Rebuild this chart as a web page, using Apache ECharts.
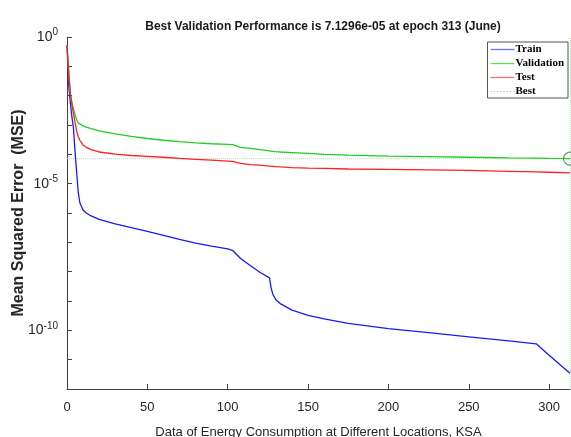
<!DOCTYPE html>
<html>
<head>
<meta charset="utf-8">
<script src="https://cdn.jsdelivr.net/npm/echarts@6/dist/echarts.min.js"></script>
<style>
  html, body { margin: 0; padding: 0; background: #fff; }
  #chart { width: 571px; height: 437px; }
</style>
</head>
<body>
<div id="chart"></div>
<script>
const epochs = [0, 1, 2, 3, 4, 5, 6, 7, 8, 10, 12, 15, 20, 30, 40, 50, 60, 70, 80, 90, 100,
  103, 108, 114, 120, 126, 127, 128, 130, 133, 140, 150, 160, 175, 200, 225, 250, 275, 292, 300, 313];

// log10(MSE) per epoch
const trainLog = [-0.28, -1.6, -2.2, -2.7, -3.1, -3.9, -4.6, -5.3, -5.65, -5.9, -6.0, -6.1, -6.22, -6.37, -6.5, -6.63, -6.76, -6.9, -7.03, -7.13, -7.22,
  -7.27, -7.55, -7.79, -8.02, -8.21, -8.55, -8.76, -8.96, -9.1, -9.31, -9.49, -9.61, -9.76, -9.94, -10.08, -10.22, -10.36, -10.46, -10.85, -11.46];
const validLog = [-0.28, -1.2, -1.9, -2.2, -2.45, -2.65, -2.82, -2.93, -2.98, -3.03, -3.07, -3.12, -3.2, -3.3, -3.39, -3.46, -3.52, -3.57, -3.61, -3.64, -3.66,
  -3.67, -3.76, -3.8, -3.84, -3.88, -3.89, -3.9, -3.91, -3.92, -3.94, -3.97, -4.0, -4.03, -4.06, -4.08, -4.1, -4.12, -4.13, -4.14, -4.147];
const testLog = [-0.28, -1.1, -1.9, -2.3, -2.6, -2.9, -3.2, -3.4, -3.52, -3.68, -3.76, -3.84, -3.92, -3.99, -4.04, -4.07, -4.1, -4.14, -4.17, -4.2, -4.23,
  -4.24, -4.31, -4.35, -4.37, -4.4, -4.4, -4.41, -4.42, -4.43, -4.45, -4.47, -4.48, -4.5, -4.51, -4.53, -4.55, -4.58, -4.6, -4.61, -4.63];

const bestEpoch = 313;
const bestPerf = 7.1296e-5;
const xTicks = [0, 50, 100, 150, 200, 250, 300];
const yLabelExps = [0, -5, -10];

const toPairs = (logs) => epochs.map((x, i) => [x, Math.pow(10, logs[i])]);

// legend swatches: a thin line, and a dotted one for "Best"
const lineIcon = 'path://M0,0 L24,0 L24,1.3 L0,1.3 Z';
const dotIcon = 'path://M0,0h1v1h-1zM3,0h1v1h-1zM6,0h1v1h-1zM9,0h1v1h-1zM12,0h1v1h-1zM15,0h1v1h-1zM18,0h1v1h-1zM21,0h1v1h-1z';

const chart = echarts.init(document.getElementById('chart'));
chart.setOption({
  animation: false,
  backgroundColor: '#ffffff',
  title: {
    text: 'Best Validation Performance is 7.1296e-05 at epoch 313 (June)',
    left: 318,
    top: 16,
    textAlign: 'center',
    textStyle: {
      fontFamily: 'Liberation Sans',
      fontSize: 12,
      fontWeight: 'bold',
      color: '#1a1a1a'
    }
  },
  legend: {
    data: [
      { name: 'Train', icon: lineIcon },
      { name: 'Validation', icon: lineIcon },
      { name: 'Test', icon: lineIcon },
      { name: 'Best', icon: dotIcon }
    ],
    orient: 'vertical',
    right: 3,
    top: 42,
    itemWidth: 24,
    itemHeight: 2,
    itemGap: 3,
    padding: [2, 4, 1, 3],
    borderColor: '#555',
    borderWidth: 1,
    backgroundColor: '#fff',
    textStyle: {
      fontFamily: 'Liberation Serif',
      fontWeight: 'bold',
      fontSize: 11,
      lineHeight: 10,
      color: '#000',
      padding: [0, 0, 0, -4]
    }
  },
  grid: {
    left: 67,
    right: 1,
    top: 37,
    bottom: 48,
    outerBoundsMode: 'none'
  },
  xAxis: {
    type: 'value',
    min: 0,
    max: bestEpoch,
    interval: 50,
    name: 'Data of Energy Consumption at Different Locations, KSA',
    nameLocation: 'middle',
    nameGap: 37,
    nameMoveOverlap: false,
    nameTextStyle: {
      fontFamily: 'Liberation Sans',
      fontSize: 13,
      color: '#262626'
    },
    axisLine: { lineStyle: { color: '#404040', width: 1 } },
    axisTick: { inside: true, length: 5, lineStyle: { color: '#404040' } },
    splitLine: { show: false },
    axisLabel: {
      margin: 12,
      fontFamily: 'Liberation Sans',
      fontSize: 13,
      color: '#262626',
      showMaxLabel: false,
      formatter: (v) => (xTicks.indexOf(v) > -1 ? String(v) : '')
    }
  },
  yAxis: {
    type: 'log',
    logBase: 10,
    min: 1e-12,
    max: 1,
    interval: 1,
    name: 'Mean Squared Error  (MSE)',
    nameLocation: 'middle',
    nameGap: 40,
    nameMoveOverlap: false,
    nameTextStyle: {
      fontFamily: 'Liberation Sans',
      fontSize: 16,
      fontWeight: 'bold',
      color: '#262626'
    },
    axisLine: { show: true, lineStyle: { color: '#404040', width: 1 } },
    axisTick: { show: true, inside: true, length: 5, lineStyle: { color: '#404040' } },
    splitLine: { show: false },
    axisLabel: {
      margin: 9,
      formatter: function (v) {
        const p = Math.round(Math.log10(v));
        if (yLabelExps.indexOf(p) < 0) return '';
        return '{b|10}{s|' + p + '}';
      },
      rich: {
        b: { fontFamily: 'Liberation Sans', fontSize: 14, color: '#262626' },
        s: { fontFamily: 'Liberation Sans', fontSize: 10, color: '#262626', padding: [0, 0, 9, 0] }
      }
    }
  },
  series: [
    {
      name: 'Train',
      type: 'line',
      symbol: 'none',
      data: toPairs(trainLog),
      lineStyle: { color: '#1a1aff', width: 1.3 },
      itemStyle: { color: '#7070ff' }
    },
    {
      name: 'Validation',
      type: 'line',
      symbol: 'none',
      data: toPairs(validLog),
      lineStyle: { color: '#22cc22', width: 1.3 },
      itemStyle: { color: '#60dd60' }
    },
    {
      name: 'Test',
      type: 'line',
      symbol: 'none',
      data: toPairs(testLog),
      lineStyle: { color: '#ff2020', width: 1.3 },
      itemStyle: { color: '#ff7070' }
    },
    {
      name: 'Best',
      type: 'line',
      symbol: 'none',
      data: [[0, bestPerf], [bestEpoch, bestPerf]],
      lineStyle: { color: '#b8e0b8', width: 1, type: 'dotted' },
      itemStyle: { color: '#9ccc9c' },
      z: 1,
      markLine: {
        silent: true,
        symbol: 'none',
        label: { show: false },
        lineStyle: { color: '#b8e0b8', width: 1, type: 'dotted' },
        data: [{ xAxis: bestEpoch }]
      }
    },
    {
      name: 'BestPoint',
      type: 'scatter',
      symbol: 'circle',
      symbolSize: 13,
      data: [[bestEpoch, bestPerf]],
      itemStyle: { color: 'rgba(0,0,0,0)', borderColor: '#3a8f3a', borderWidth: 1.2 },
      z: 5
    }
  ]
});
</script>
</body>
</html>
